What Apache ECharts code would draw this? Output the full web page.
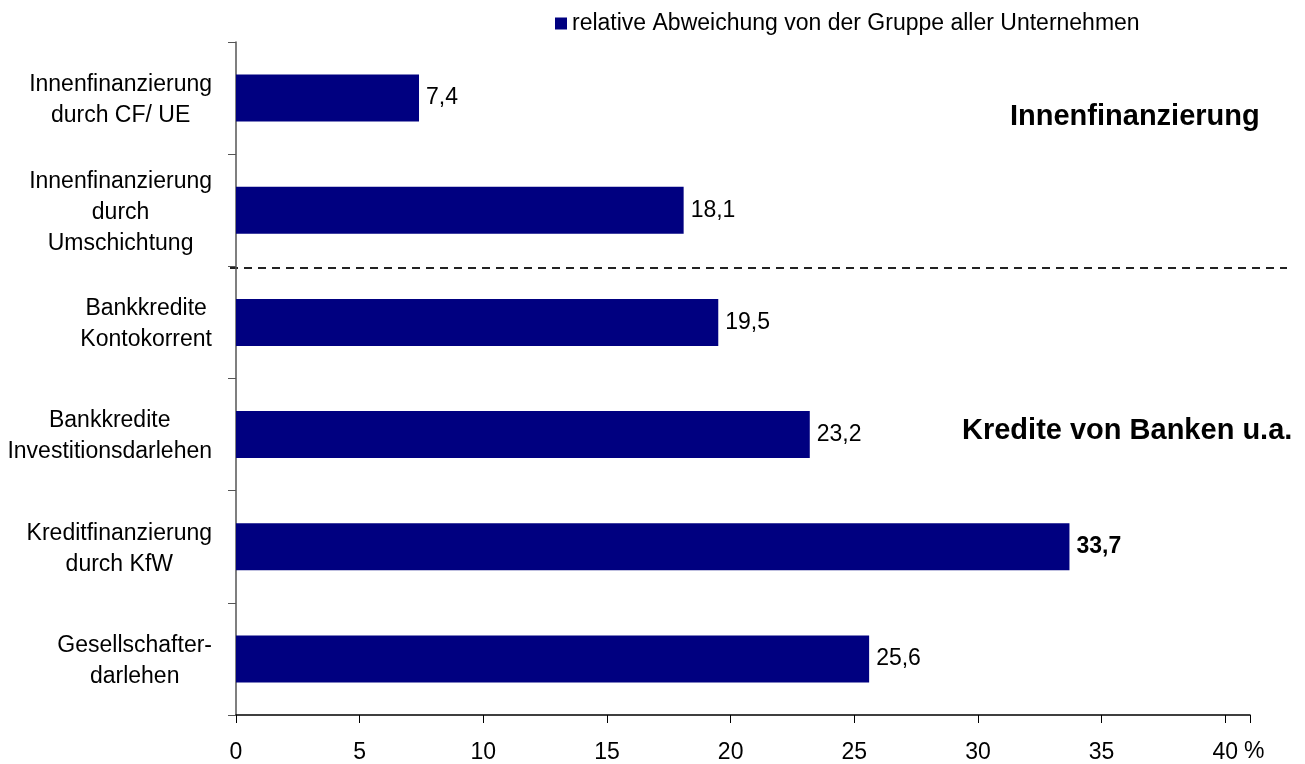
<!DOCTYPE html>
<html>
<head>
<meta charset="utf-8" />
<title>Abweichung</title>
<script src="https://cdn.jsdelivr.net/npm/echarts@6/dist/echarts.min.js"></script>
</head>
<body style="margin:0;background:#fff;">
<div id="main" style="width:1305px;height:764px;"></div>
<script type="text/javascript">
// Kategorien (von oben nach unten)
var categories = [
    'Innenfinanzierung\ndurch CF/ UE',
    'Innenfinanzierung\ndurch\nUmschichtung',
    'Bankkredite\nKontokorrent',
    'Bankkredite\nInvestitionsdarlehen',
    'Kreditfinanzierung\ndurch KfW',
    'Gesellschafter-\ndarlehen'
];
var values = [7.4, 18.1, 19.5, 23.2, 33.7, 25.6];
var boldIndex = 4; // 33,7 fett
var seriesName = 'relative Abweichung von der Gruppe aller Unternehmen';
var xTicks = [0, 5, 10, 15, 20, 25, 30, 35, 40];

var font = 'Arial, "Liberation Sans", sans-serif';
var myChart = echarts.init(document.getElementById('main'));

var barData = values.map(function (v, i) {
    var d = { value: v };
    if (i === boldIndex) d.label = { fontWeight: 'bold' };
    return d;
});

var option = {
    animation: false,
    textStyle: { fontFamily: font, color: '#000' },
    grid: { left: 236, right: 55, top: 42, bottom: 48 },
    legend: {
        data: [seriesName],
        left: 550, top: 7,
        icon: 'rect', itemWidth: 12, itemHeight: 12, itemGap: 6,
        textStyle: { fontSize: 23, color: '#000', fontFamily: font }
    },
    xAxis: {
        type: 'value',
        min: 0, max: 41, interval: 5,
        splitLine: { show: false },
        axisLine: { show: true, lineStyle: { color: '#000', width: 1.5 } },
        axisTick: { show: true, length: 8, inside: false, lineStyle: { color: '#000' } },
        axisLabel: {
            fontSize: 23, color: '#000', margin: 26, fontFamily: font,
            formatter: function (v) { return xTicks.indexOf(v) >= 0 ? String(v) : ''; }
        }
    },
    yAxis: {
        type: 'category',
        inverse: true,
        data: categories,
        axisLine: { show: true, lineStyle: { color: '#555', width: 1.5 } },
        axisTick: { show: true, length: 8, lineStyle: { color: '#555' } },
        axisLabel: {
            margin: 24, align: 'right', padding: [4, 0, 0, 0],
            formatter: function (v) {
                return v.split('\n').map(function (s) { return '{c|' + s + '}'; }).join('\n');
            },
            rich: { c: { align: 'center', fontSize: 23, lineHeight: 31, color: '#000', fontFamily: font } }
        }
    },
    series: [{
        name: seriesName,
        type: 'bar',
        data: barData,
        barWidth: 47,
        itemStyle: { color: '#000080' },
        label: {
            show: true, position: 'right', distance: 7,
            fontSize: 23, color: '#000', fontFamily: font,
            formatter: function (p) { return String(p.value).replace('.', ','); }
        }
    }],
    graphic: [
        { type: 'line', shape: { x1: 230, y1: 268, x2: 1287, y2: 268 },
          style: { stroke: '#222', lineWidth: 2, lineDash: [8, 6] } },
        { type: 'text', left: 1244, top: 740,
          style: { text: '%', fontSize: 23, fill: '#000', fontFamily: font } },
        { type: 'text', left: 1010, top: 102,
          style: { text: 'Innenfinanzierung', fontSize: 29, fontWeight: 'bold', fill: '#000', fontFamily: font } },
        { type: 'text', left: 962, top: 416,
          style: { text: 'Kredite von Banken u.a.', fontSize: 29, fontWeight: 'bold', fill: '#000', fontFamily: font } }
    ]
};
myChart.setOption(option);
</script>
</body>
</html>
